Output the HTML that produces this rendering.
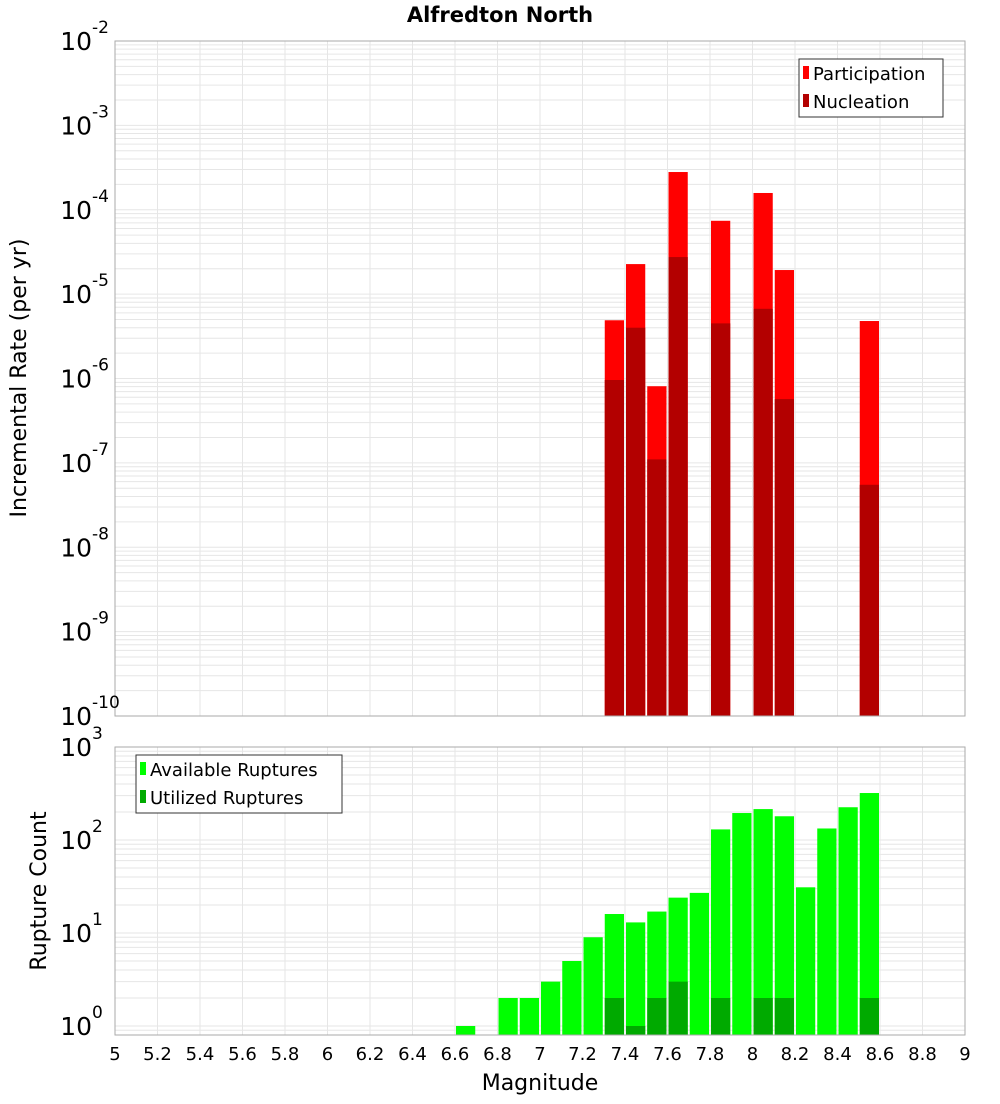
<!DOCTYPE html>
<html><head><meta charset="utf-8"><style>
body{margin:0;background:#fff;font-family:"DejaVu Sans","Liberation Sans",sans-serif}
</style></head><body>
<svg id="chart" width="1000" height="1100" xmlns="http://www.w3.org/2000/svg" font-family="DejaVu Sans, Liberation Sans, sans-serif">
<text x="500" y="22" text-anchor="middle" font-size="21" font-weight="bold">Alfredton North</text>
<text transform="translate(26,378) rotate(-90)" text-anchor="middle" font-size="22">Incremental Rate (per yr)</text>
<text transform="translate(46,891) rotate(-90)" text-anchor="middle" font-size="22">Rupture Count</text>
<text x="540" y="1090" text-anchor="middle" font-size="22">Magnitude</text>
<g id="top"></g><g id="bot"></g>
<g>
<rect x="799" y="59" width="144" height="58" fill="#fff" stroke="#333"/>
<rect x="803" y="66" width="6" height="13" fill="#ff0000"/>
<text x="813" y="80" font-size="18">Participation</text>
<rect x="803" y="94" width="6" height="13" fill="#b30000"/>
<text x="813" y="108" font-size="18">Nucleation</text>
</g>
<g>
<rect x="136" y="755" width="206" height="58" fill="#fff" stroke="#333"/>
<rect x="140" y="762" width="6" height="13" fill="#00ff00"/>
<text x="150" y="776" font-size="18">Available Ruptures</text>
<rect x="140" y="790" width="6" height="13" fill="#00aa00"/>
<text x="150" y="804" font-size="18">Utilized Ruptures</text>
</g>
</svg>
<script>
const topMags=[7.35,7.45,7.55,7.65,7.85,8.05,8.15,8.55];
const participation=[4.9e-6,2.27e-5,8.1e-7,2.8e-4,7.4e-5,1.58e-4,1.93e-5,4.8e-6];
const nucleation=[9.6e-7,4.0e-6,1.1e-7,2.75e-5,4.5e-6,6.7e-6,5.7e-7,5.5e-8];
const availMags=[6.65,6.85,6.95,7.05,7.15,7.25,7.35,7.45,7.55,7.65,7.75,7.85,7.95,8.05,8.15,8.25,8.35,8.45,8.55];
const available=[1,2,2,3,5,9,16,13,17,24,27,130,195,215,180,31,133,225,320];
const utilMags=[7.35,7.45,7.55,7.65,7.85,8.05,8.15,8.55];
const utilized=[2,1,2,3,2,2,2,2];
const xTicks=[5,5.2,5.4,5.6,5.8,6,6.2,6.4,6.6,6.8,7,7.2,7.4,7.6,7.8,8,8.2,8.4,8.6,8.8,9];
const topExp=[-2,-3,-4,-5,-6,-7,-8,-9,-10];
const botExp=[3,2,1,0];

const NS="http://www.w3.org/2000/svg";
const L=115,R=965;
const X=m=>L+(m-5)/4*(R-L);
function el(p,t,a){const e=document.createElementNS(NS,t);for(const k in a)e.setAttribute(k,a[k]);p.appendChild(e);return e;}
function panel(g,y0,y1,lmax,lmin){
  const Y=v=>y0+(lmax-Math.log10(v))/(lmax-lmin)*(y1-y0);
  const bg=el(g,'rect',{x:L,y:y0,width:R-L,height:y1-y0,fill:'#fff'});
  
  for(let d=Math.floor(lmin);d<lmax;d++)for(let k=1;k<10;k++){
    const v=k*Math.pow(10,d);const yy=Y(v);if(yy<y0||yy>y1)continue;
    const ln=el(g,'line',{x1:L,x2:R,y1:yy,y2:yy,stroke:'#e6e6e6','stroke-width':1});
    
  }
  xTicks.forEach(t=>{const ln=el(g,'line',{x1:X(t),x2:X(t),y1:y0,y2:y1,stroke:'#e6e6e6'});
    });
  return Y;
}
function bars(g,Y,y1,mags,vals,col,name){
  const w=(R-L)/40;
  mags.forEach((m,i)=>{const yt=Y(vals[i]);
    const r=el(g,'rect',{x:X(m)-w/2+1,y:yt,width:w-2,height:y1-yt,fill:col});
    });
}
function frame(g,y0,y1){const f=el(g,'rect',{x:L,y:y0,width:R-L,height:y1-y0,fill:'none',stroke:'#aaa'});
  }
function ylabels(g,Y,exps,dy){
  exps.forEach(e=>{const yy=Y(Math.pow(10,e));
    const t=el(g,'text',{x:92,y:yy+dy,'text-anchor':'end','font-size':25});t.textContent='10';
    
    const s=el(g,'text',{x:92,y:yy+dy-17,'font-size':17});s.textContent=String(e);
    });
}
const gt=document.getElementById('top'),gb=document.getElementById('bot');
const Yt=panel(gt,41,716,-2,-10);
bars(gt,Yt,716,topMags,participation,'#ff0000','participation');
bars(gt,Yt,716,topMags,nucleation,'#b30000','nucleation');
frame(gt,41,716);ylabels(gt,Yt,topExp,9);
const Yb=panel(gb,747,1035,3,3-288/93);
bars(gb,Yb,1035,availMags,available,'#00ff00','available');
bars(gb,Yb,1035,utilMags,utilized,'#00aa00','utilized');
frame(gb,747,1035);ylabels(gb,Yb,botExp,9);
xTicks.forEach(t=>{const tx=el(gb,'text',{x:X(t),y:1060,'text-anchor':'middle','font-size':18});
  tx.textContent=String(t);});
</script>
</body></html>
